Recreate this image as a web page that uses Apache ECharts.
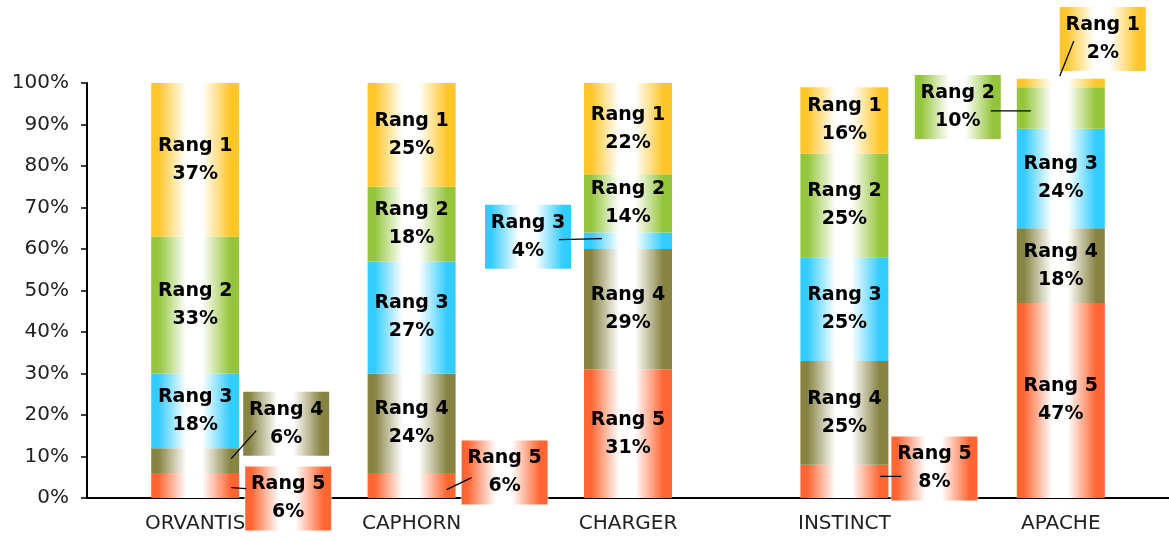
<!DOCTYPE html>
<html>
<head>
<meta charset="utf-8">
<script src="https://cdn.jsdelivr.net/npm/echarts@6/dist/echarts.min.js"></script>
<style>html,body{margin:0;padding:0;background:#fff}#c{width:1169px;height:542px}</style>
</head>
<body>
<div id="c"></div>
<script>
const categories = ['ORVANTIS', 'CAPHORN', 'CHARGER', 'INSTINCT', 'APACHE'];
const rang1 = [37, 25, 22, 16, 2];
const rang2 = [33, 18, 14, 25, 10];
const rang3 = [18, 27, 4, 25, 24];
const rang4 = [6, 24, 29, 25, 18];
const rang5 = [6, 6, 31, 8, 47];
const yTicks = [0, 10, 20, 30, 40, 50, 60, 70, 80, 90, 100];

const seriesNames = ['Rang 5', 'Rang 4', 'Rang 3', 'Rang 2', 'Rang 1'];
const seriesValues = [rang5, rang4, rang3, rang2, rang1];

const colors = {
  'Rang 1': '#ffc62a',
  'Rang 2': '#94c53a',
  'Rang 3': '#33ccff',
  'Rang 4': '#878343',
  'Rang 5': '#ff6633'
};
// labels moved outside the bar:
// [dx, dy] label shift, [sx, sy] leader start from segment centre, [ex, ey] leader end from label centre
const moved = {
  'Rang 1': {4: [42, -44, -1, -7, -29, 2]},
  'Rang 2': {4: [-103, -1, -30, 3, 33, 4]},
  'Rang 3': {2: [-100, -4, -26, -2, 31, 3]},
  'Rang 4': {0: [91, -37, 36, -2, -30, 7]},
  'Rang 5': {0: [93, 13, 36, 2, -42, -10], 1: [93, -13, 35, 4, -33, 5], 3: [90, -13, 36, -5, -33, 8]}
};

function grad(c) {
  return new echarts.graphic.LinearGradient(0, 0, 1, 0, [
    {offset: 0, color: c},
    {offset: 0.08, color: c},
    {offset: 0.4, color: '#ffffff'},
    {offset: 0.58, color: '#ffffff'},
    {offset: 0.9, color: c},
    {offset: 1, color: c}
  ]);
}

const labelText = {
  color: '#000',
  fontFamily: 'DejaVu Sans',
  fontWeight: 'bold',
  fontSize: 19,
  lineHeight: 28,
  align: 'center'
};

function makeSeries(name, values) {
  const mv = moved[name];
  return {
    name: name,
    type: 'bar',
    stack: 'total',
    barWidth: 88,
    clip: false,
    itemStyle: {color: grad(colors[name])},
    label: Object.assign({
      show: true,
      position: 'inside',
      formatter: function (p) { return name + '\n' + p.value + '%'; }
    }, labelText),
    labelLayout: function (p) {
      const o = mv[p.dataIndex];
      if (!o) return {};
      return {dx: o[0], dy: o[1]};
    },
    data: values.map(function (v, i) {
      if (mv[i]) {
        return {
          value: v,
          label: {
            backgroundColor: grad(colors[name]),
            borderColor: 'rgba(255,255,255,0.6)',
            borderWidth: 1,
            width: 74,
            height: 56,
            padding: [4, 6]
          }
        };
      }
      return v;
    })
  };
}

// leader lines: anchored on the middle of each moved stacked segment
const leaderData = [];
seriesNames.forEach(function (name, s) {
  const mv = moved[name];
  Object.keys(mv).forEach(function (k) {
    const i = +k;
    let base = 0;
    for (let t = 0; t < s; t++) base += seriesValues[t][i];
    const mid = base + seriesValues[s][i] / 2;
    leaderData.push([i, mid].concat(mv[k]));
  });
});

const chart = echarts.init(document.getElementById('c'), null, {renderer: 'canvas'});
chart.setOption({
  animation: false,
  backgroundColor: '#fff',
  grid: {left: 87, top: 83, bottom: 44, width: 1085, containLabel: false},
  xAxis: {
    type: 'category',
    data: categories,
    axisLine: {lineStyle: {color: '#000', width: 2}},
    axisTick: {show: false},
    axisLabel: {color: '#222', fontFamily: 'DejaVu Sans', fontSize: 20, margin: 16}
  },
  yAxis: {
    type: 'value',
    min: yTicks[0],
    max: yTicks[yTicks.length - 1],
    interval: 10,
    splitLine: {show: false},
    axisLine: {show: true, lineStyle: {color: '#000', width: 2}},
    axisTick: {show: true, length: 6, lineStyle: {color: '#000', width: 1.5}},
    axisLabel: {
      color: '#222', fontFamily: 'DejaVu Sans', fontSize: 20, margin: 18,
      formatter: function (v) { return v + '%'; }
    }
  },
  series: seriesNames.map(function (n, s) { return makeSeries(n, seriesValues[s]); }).concat([{
    type: 'custom',
    z: 20,
    clip: false,
    silent: true,
    data: leaderData,
    encode: {x: 0, y: 1},
    renderItem: function (params, api) {
      const p = api.coord([api.value(0), api.value(1)]);
      const dx = api.value(2), dy = api.value(3);
      const sx = api.value(4), sy = api.value(5);
      const ex = api.value(6), ey = api.value(7);
      return {
        type: 'line',
        shape: {x1: p[0] + sx, y1: p[1] + sy, x2: p[0] + dx + ex, y2: p[1] + dy + ey},
        style: {stroke: '#000', lineWidth: 1.3}
      };
    }
  }])
});
</script>
</body>
</html>
